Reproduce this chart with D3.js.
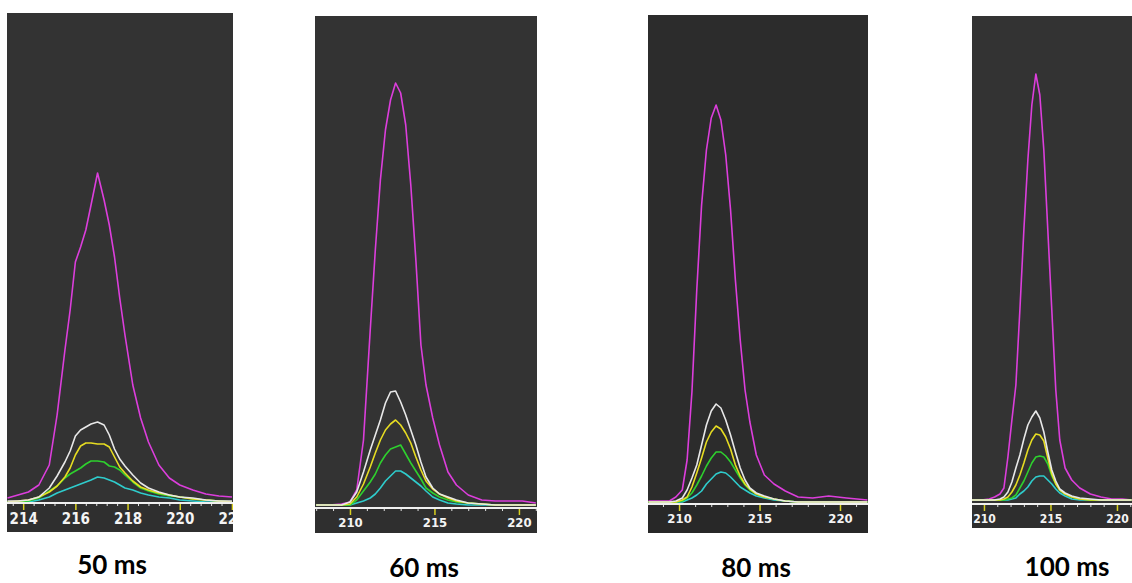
<!DOCTYPE html>
<html>
<head>
<meta charset="utf-8">
<script src="https://cdn.jsdelivr.net/npm/d3@7"></script>
<style>
  body { margin: 0; background: #fff; }
  svg { display: block; }
  .tick-label { font-family: "Liberation Sans Narrow", "DejaVu Sans Condensed", sans-serif; font-weight: bold; fill: #f4f4f4; }
  .caption { font-family: Lato, "Open Sans", sans-serif; font-weight: bold; font-size: 26px; fill: #000; }
</style>
</head>
<body>
<script>
// ---- data: retention time grid + intensity of each trace, one set per exposure ----
var captions = ["50 ms", "60 ms", "80 ms", "100 ms"];

var p50X       = [213.4,213.8,214.2,214.6,215.0,215.3,215.6,215.8,216.0,216.2,216.4,216.6,216.85,217.1,217.3,217.5,217.7,217.9,218.2,218.5,218.8,219.2,219.6,220.0,220.5,221.0,221.5,222.0];
var p50Magenta = [4,7,10,17,37,87,152,192,240,255,272,297,329,302,277,245,204,167,117,84,60,37,24,17,12,8,6,5];
var p50White   = [1,1,2,5,14,26,40,51,66,72,75,78,80,77,67,53,43,36,27,19,14,10,7,5,4,2,1,1];
var p50Yellow  = [0,1,2,5,10,16,25,34,47,56,59,59,58,58,55,45,35,29,21,15,12,9,7,5,3,2,1,0];
var p50Green   = [0,0,1,4,11,16,24,28,31,34,38,41,41,40,36,35,32,27,20,14,11,8,6,5,3,2,1,0];
var p50Cyan    = [0,0,0,2,5,9,12,14,16,18,20,22,25,24,22,20,17,14,12,9,7,5,4,2,1,0,0,0];
var p50Ticks   = [214,216,218,220,222];

var p60X       = [208.0,208.8,209.5,210.0,210.4,210.8,211.2,211.5,211.8,212.1,212.4,212.7,213.0,213.3,213.6,213.9,214.2,214.5,214.9,215.3,215.8,216.3,217.0,217.8,218.6,219.4,220.2,221.0];
var p60Magenta = [0,0,1,3,15,65,175,255,325,375,405,422,412,380,320,245,160,120,87,60,33,20,10,5,4,4,4,2];
var p60White   = [0,0,0,3,13,33,55,70,85,102,113,114,103,90,75,60,43,28,17,11,8,5,2,1,0,0,0,0];
var p60Yellow  = [0,0,0,1,8,21,38,52,65,75,81,85,80,72,62,48,35,24,16,11,7,4,2,1,0,0,0,0];
var p60Green   = [0,0,0,0,5,14,23,31,42,50,56,58,60,51,42,34,26,17,12,8,5,3,2,1,0,0,0,0];
var p60Cyan    = [0,0,0,0,2,4,7,11,17,24,29,34,34,31,27,23,19,14,8,5,2,1,0,0,0,0,0,0];
var p60Ticks   = [210,215,220];

var p80X       = [208.1,208.8,209.4,209.8,210.2,210.5,210.8,211.1,211.4,211.7,212.0,212.3,212.6,212.9,213.2,213.5,213.8,214.1,214.4,214.8,215.3,215.9,216.6,217.4,218.3,219.3,220.4,221.7];
var p80Magenta = [1,1,1,5,12,42,110,212,297,352,384,397,382,347,292,222,162,112,80,47,27,18,11,5,4,6,4,2];
var p80White   = [0,0,0,1,4,12,24,37,57,77,91,98,94,82,67,50,34,22,14,9,6,3,1,0,0,0,0,0];
var p80Yellow  = [0,0,0,0,2,5,15,29,44,60,70,76,73,65,53,37,26,18,13,8,5,3,1,0,0,0,0,0];
var p80Green   = [0,0,0,0,1,4,9,17,26,36,44,50,50,46,40,32,24,17,12,8,5,3,1,0,0,0,0,0];
var p80Cyan    = [0,0,0,0,0,2,4,7,11,18,23,28,30,29,25,20,15,12,9,6,4,2,1,0,0,0,0,0];
var p80Ticks   = [210,215,220];

var p100X       = [209.1,209.8,210.4,210.8,211.2,211.5,211.8,212.1,212.4,212.7,213.0,213.3,213.6,213.9,214.2,214.5,214.8,215.1,215.4,215.7,216.1,216.6,217.2,218.0,218.8,219.6,220.4,221.1];
var p100Magenta = [0,0,1,3,6,12,43,80,115,190,270,340,395,426,405,350,270,190,110,60,32,20,12,6,3,1,1,0];
var p100White   = [0,0,0,0,1,3,8,18,32,45,61,75,83,89,82,68,48,30,19,11,7,4,2,1,0,0,0,0];
var p100Yellow  = [0,0,0,0,0,1,3,8,15,25,37,50,60,66,65,59,42,26,16,10,6,3,1,0,0,0,0,0];
var p100Green   = [0,0,0,0,0,0,1,2,5,12,19,28,37,43,44,43,36,24,16,10,6,3,1,0,0,0,0,0];
var p100Cyan    = [0,0,0,0,0,0,0,1,2,6,9,13,19,23,24,24,20,16,11,7,4,1,0,0,0,0,0,0];
var p100Ticks   = [210,215,220];

var traceColors = ["#dc3edc", "#2fcccc", "#2ed02e", "#e6dc22", "#e8e8e8"]; // magenta, cyan, green, yellow, white

// ---- layout of each screenshot panel ----
var layout = [
  {x0:7,   x1:233,  top:13, base:502, axisY:503, bottom:532, dom:[213.38,222.04], minor:0.4, font:15, bg:"#333333", strip:"#2f2f2f", cx:112,  cy:574},
  {x0:315, x1:537,  top:16, base:505, axisY:508, bottom:533, dom:[207.93,221.07], minor:1,   font:13, bg:"#333333", strip:"#2f2f2f", cx:424,  cy:577},
  {x0:648, x1:868,  top:15, base:502, axisY:504, bottom:533, dom:[208.07,221.74], minor:1,   font:13, bg:"#2c2c2c", strip:"#282828", cx:756,  cy:577},
  {x0:972, x1:1132, top:16, base:500, axisY:504, bottom:528, dom:[209.10,221.13], minor:1,   font:12, bg:"#333333", strip:"#2e2e2e", cx:1067, cy:576}
];

var panelData = [
  {xs:p50X,  ticks:p50Ticks,  series:[p50Magenta, p50Cyan, p50Green, p50Yellow, p50White]},
  {xs:p60X,  ticks:p60Ticks,  series:[p60Magenta, p60Cyan, p60Green, p60Yellow, p60White]},
  {xs:p80X,  ticks:p80Ticks,  series:[p80Magenta, p80Cyan, p80Green, p80Yellow, p80White]},
  {xs:p100X, ticks:p100Ticks, series:[p100Magenta, p100Cyan, p100Green, p100Yellow, p100White]}
];

var svg = d3.select("body").append("svg").attr("width", 1132).attr("height", 583);

panelData.forEach(function(pd, i) {
  var L = layout[i];
  var x = d3.scaleLinear().domain(L.dom).range([L.x0, L.x1]);
  var y = d3.scaleLinear().domain([0, 490]).range([L.base, L.base - 490]);

  var g = svg.append("g");
  g.append("rect").attr("x", L.x0).attr("y", L.top).attr("width", L.x1 - L.x0).attr("height", L.axisY - L.top).attr("fill", L.bg);
  g.append("rect").attr("x", L.x0).attr("y", L.axisY).attr("width", L.x1 - L.x0).attr("height", L.bottom - L.axisY).attr("fill", L.strip);

  // clip everything to the screenshot rectangle (cuts the last label in the first panel)
  g.append("clipPath").attr("id", "clip" + i)
    .append("rect").attr("x", L.x0).attr("y", L.top).attr("width", L.x1 - L.x0).attr("height", L.bottom - L.top);

  var line = d3.line()
    .x(function(d, j) { return x(pd.xs[j]); })
    .y(function(d) { return y(d); });

  var inner = g.append("g").attr("clip-path", "url(#clip" + i + ")");
  pd.series.forEach(function(s, k) {
    inner.append("path").attr("d", line(s))
      .attr("fill", "none").attr("stroke", traceColors[k]).attr("stroke-width", 1.6)
      .attr("stroke-linejoin", "round");
  });

  // minor ticks (white) and major ticks (yellow)
  var minorVals = d3.range(Math.ceil(L.dom[0] / L.minor) * L.minor, L.dom[1], L.minor)
    .filter(function(v) { return pd.ticks.every(function(t) { return Math.abs(t - v) > 1e-6; }); });
  var minorAxis = d3.axisBottom(x).tickValues(minorVals).tickSize(3).tickFormat("");
  var mg = inner.append("g").attr("transform", "translate(0," + L.axisY + ")").call(minorAxis);
  mg.select(".domain").remove();
  mg.selectAll(".tick line").attr("stroke", "#e0e0e0");

  var majorAxis = d3.axisBottom(x).tickValues(pd.ticks).tickSize(7).tickPadding(3).tickFormat(d3.format("d"));
  var ag = inner.append("g").attr("transform", "translate(0," + L.axisY + ")").call(majorAxis);
  ag.select(".domain").remove();
  ag.selectAll(".tick line").attr("stroke", "#d8d020").attr("stroke-width", 1.5);
  ag.selectAll(".tick text").attr("class", "tick-label").attr("font-size", L.font).attr("fill", "#f4f4f4");

  g.append("line").attr("x1", L.x0).attr("x2", L.x1).attr("y1", L.axisY).attr("y2", L.axisY)
    .attr("stroke", "#f0f0f0").attr("stroke-width", 2);

  svg.append("text").attr("class", "caption").attr("x", L.cx).attr("y", L.cy)
    .attr("text-anchor", "middle").text(captions[i]);
});
</script>
</body>
</html>
